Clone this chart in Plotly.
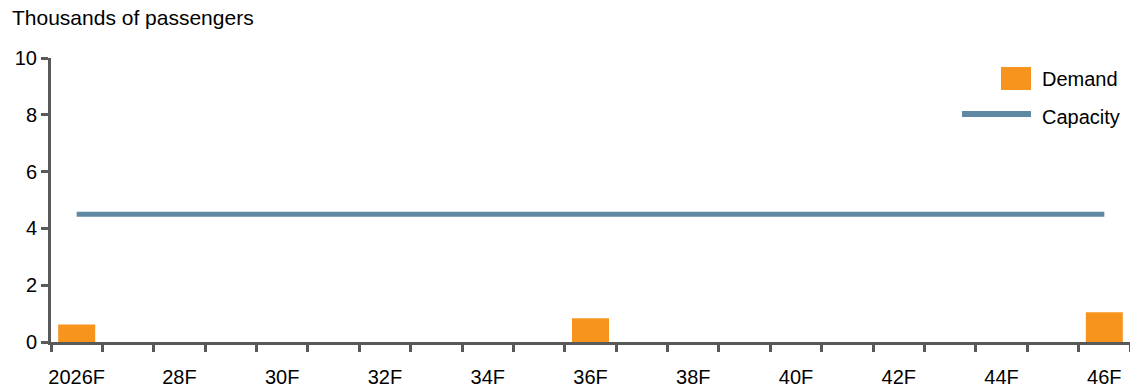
import plotly.graph_objects as go

years = list(range(2026, 2047))
demand = [0.62, None, None, None, None, None, None, None, None, None, 0.84,
          None, None, None, None, None, None, None, None, None, 1.05]
capacity = [4.5] * 21
tick_years = list(range(2026, 2047, 2))
tick_labels = ["2026F", "28F", "30F", "32F", "34F", "36F", "38F", "40F", "42F", "44F", "46F"]

ORANGE = "#F7941E"
BLUE = "#5F89A3"
AXIS = "#595959"
FONT = "Liberation Sans, Arial, sans-serif"

W, H = 1130, 389
L, R, T, B = 51, 0, 58, 47
pw, ph = W - L - R, H - T - B

def px(x):
    return (x - L) / pw

def py(y):
    return (H - B - y) / ph

fig = go.Figure()
fig.add_trace(go.Bar(x=years, y=demand, width=0.72, marker=dict(color=ORANGE, line=dict(width=0)),
                     name="Demand", showlegend=False))
fig.add_trace(go.Scatter(x=years, y=capacity, mode="lines", line=dict(color=BLUE, width=5),
                         name="Capacity", showlegend=False))

fig.update_layout(
    width=W, height=H,
    margin=dict(l=L, r=R, t=T, b=B, pad=0),
    plot_bgcolor="white", paper_bgcolor="white",
    font=dict(family=FONT, size=20, color="#000000"),
    xaxis=dict(
        range=[2025.5, 2046.5], tickmode="array", tickvals=tick_years, ticktext=tick_labels,
        ticks="outside", ticklen=15, tickcolor="rgba(0,0,0,0)",
        showline=True, linecolor=AXIS, linewidth=3, showgrid=False, zeroline=False,
        tickfont=dict(size=20, family=FONT),
        minor=dict(tick0=2025.5, dtick=1, ticks="outside", ticklen=7, tickwidth=3, tickcolor=AXIS, showgrid=False),
    ),
    yaxis=dict(
        range=[0, 10], tickmode="array", tickvals=[0, 2, 4, 6, 8, 10],
        ticks="outside", ticklen=7, tickwidth=3, tickcolor=AXIS,
        showline=True, linecolor=AXIS, linewidth=3, showgrid=False, zeroline=False,
        tickfont=dict(size=20, family=FONT),
    ),
    annotations=[
        dict(text="Thousands of passengers", xref="paper", yref="paper", x=px(10), y=py(18),
             xanchor="left", yanchor="middle", showarrow=False, font=dict(size=21, family=FONT)),
        dict(text="Demand", xref="paper", yref="paper", x=px(1040), y=py(79),
             xanchor="left", yanchor="middle", showarrow=False, font=dict(size=20, family=FONT)),
        dict(text="Capacity", xref="paper", yref="paper", x=px(1040), y=py(117),
             xanchor="left", yanchor="middle", showarrow=False, font=dict(size=20, family=FONT)),
    ],
    shapes=[
        dict(type="rect", xref="paper", yref="paper", x0=px(1001), x1=px(1031), y0=py(90), y1=py(67),
             fillcolor=ORANGE, line=dict(width=0)),
        dict(type="line", xref="paper", yref="paper", x0=px(962), x1=px(1031), y0=py(114), y1=py(114),
             line=dict(color=BLUE, width=6)),
    ],
)

fig.write_html("out.html", config={"displayModeBar": False},
               post_script="document.body.style.margin='0px';document.body.style.overflow='hidden';")
